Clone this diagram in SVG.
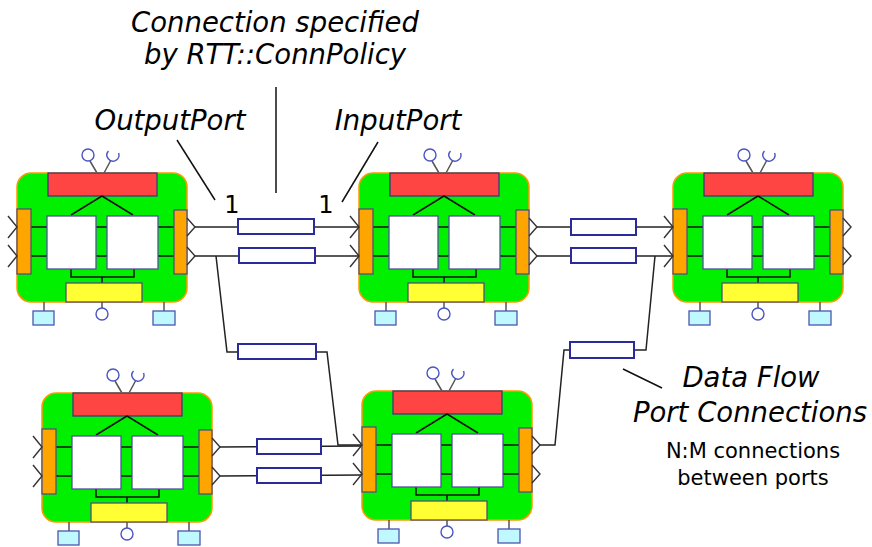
<svg xmlns="http://www.w3.org/2000/svg" xmlns:xlink="http://www.w3.org/1999/xlink" width="872" height="547" viewBox="0 0 872 547">
<style>
.body{fill:#00f000;stroke:#ff9900;stroke-width:1.5}
.red{fill:#ff4444;stroke:#3a3a7a;stroke-width:1.3}
.port{fill:#ffa500;stroke:#50507a;stroke-width:1.3}
.box{fill:#ffffff;stroke:#5050a0;stroke-width:1.3}
.yel{fill:#ffff33;stroke:#50507a;stroke-width:1.3}
.svc{fill:#c0f8ff;stroke:#4a55b0;stroke-width:1.3}
.ring{fill:#ffffff;stroke:#4a55c0;stroke-width:1.4}
.wire{fill:none;stroke:#111;stroke-width:1.5}
.stub{fill:none;stroke:#555;stroke-width:1.5}
.chev{fill:none;stroke:#333;stroke-width:1.4}
.conn{fill:none;stroke:#222;stroke-width:1.5}
.cbox{fill:#ffffff;stroke:#2a2a9a;stroke-width:2}
.lead{fill:none;stroke:#111;stroke-width:1.5}
.lbl{font-family:"DejaVu Sans",Verdana,sans-serif;font-style:italic;font-size:27.5px;fill:#000;text-anchor:middle}
.num{font-family:"DejaVu Sans",Verdana,sans-serif;font-size:24px;fill:#000;text-anchor:middle}
.small{font-family:"DejaVu Sans",Verdana,sans-serif;font-size:21px;fill:#000;text-anchor:middle}
</style>
<defs>
<g id="comp">
  <path class="stub" d="M80 0 L73 -12 M87 0 L94 -13"/>
  <circle class="ring" cx="71" cy="-18" r="6"/>
  <path class="ring" style="fill:none" d="M91.5 -22 A6 6 0 1 0 101.6 -20"/>
  <rect class="body" x="0" y="0" width="170" height="129" rx="14"/>
  <rect class="red" x="31" y="0" width="109" height="23"/>
  <path class="wire" d="M85 23 L54 42 M85 23 L116 42"/>
  <path class="wire" d="M14 54 H157 M14 83 H157"/>
  <path class="wire" d="M54 96 V104 H117 V96 M85 104 V110"/>
  <rect class="port" x="0" y="36" width="14" height="65"/>
  <rect class="port" x="157" y="37" width="13" height="64"/>
  <rect class="box" x="30" y="43" width="49" height="53"/>
  <rect class="box" x="90" y="43" width="51" height="53"/>
  <rect class="yel" x="49" y="110" width="76" height="19"/>
  <path class="stub" d="M27 129 V138 M147 129 V138 M85 129 V135"/>
  <rect class="svc" x="16" y="138" width="21" height="14"/>
  <rect class="svc" x="136" y="138" width="22" height="14"/>
  <circle class="ring" cx="85" cy="141" r="6"/>
  <path class="chev" d="M-9 43 L0 54 L-9 65 M-9 72 L0 83 L-9 94"/>
  <path class="chev" d="M170 45 L178 54 L170 63 M170 74 L178 83 L170 92"/>
</g>
</defs>

<g id="connectors">
  <path class="conn" d="M195 227 H359"/>
  <path class="conn" d="M195 256 H359"/>
  <path class="conn" d="M216 256 L227 352 H238 M316 352 H327 L338 445 H362"/>
  <path class="conn" d="M537 227 H673"/>
  <path class="conn" d="M537 256 H673"/>
  <path class="conn" d="M219 447 L362 446"/>
  <path class="conn" d="M219 476 L362 475"/>
  <path class="conn" d="M539 445 H555 L564 350 H570 M634 350 H646 L655 256"/>
  <rect class="cbox" x="238" y="219" width="76" height="15"/>
  <rect class="cbox" x="239" y="248" width="76" height="15"/>
  <rect class="cbox" x="238" y="344" width="78" height="15"/>
  <rect class="cbox" x="571" y="219" width="65" height="16"/>
  <rect class="cbox" x="571" y="248" width="65" height="15"/>
  <rect class="cbox" x="257" y="439" width="64" height="15"/>
  <rect class="cbox" x="257" y="468" width="64" height="15"/>
  <rect class="cbox" x="570" y="342" width="64" height="16"/>
</g>

<g id="component1" transform="translate(17,173)"><use xlink:href="#comp" href="#comp"/></g>
<g id="component2" transform="translate(359,173)"><use xlink:href="#comp" href="#comp"/></g>
<g id="component3" transform="translate(673,173)"><use xlink:href="#comp" href="#comp"/></g>
<g id="component4" transform="translate(42,393)"><use xlink:href="#comp" href="#comp"/></g>
<g id="component5" transform="translate(362,391)"><use xlink:href="#comp" href="#comp"/></g>

<g id="annotations">
  <text class="lbl" x="275" y="32">Connection specified</text>
  <text class="lbl" x="275" y="64">by RTT::ConnPolicy</text>
  <path class="lead" d="M276 87 V193"/>
  <text class="lbl" x="170" y="130">OutputPort</text>
  <path class="lead" d="M177 140 L215 200"/>
  <text class="num" x="232" y="213">1</text>
  <text class="lbl" x="398" y="130">InputPort</text>
  <path class="lead" d="M378 142 L342 202"/>
  <text class="num" x="326" y="213">1</text>
  <text class="lbl" x="751" y="387">Data Flow</text>
  <text class="lbl" x="750" y="422">Port Connections</text>
  <path class="lead" d="M623 369 L662 388"/>
  <text class="small" x="753" y="458">N:M connections</text>
  <text class="small" x="753" y="485">between ports</text>
</g>
</svg>
